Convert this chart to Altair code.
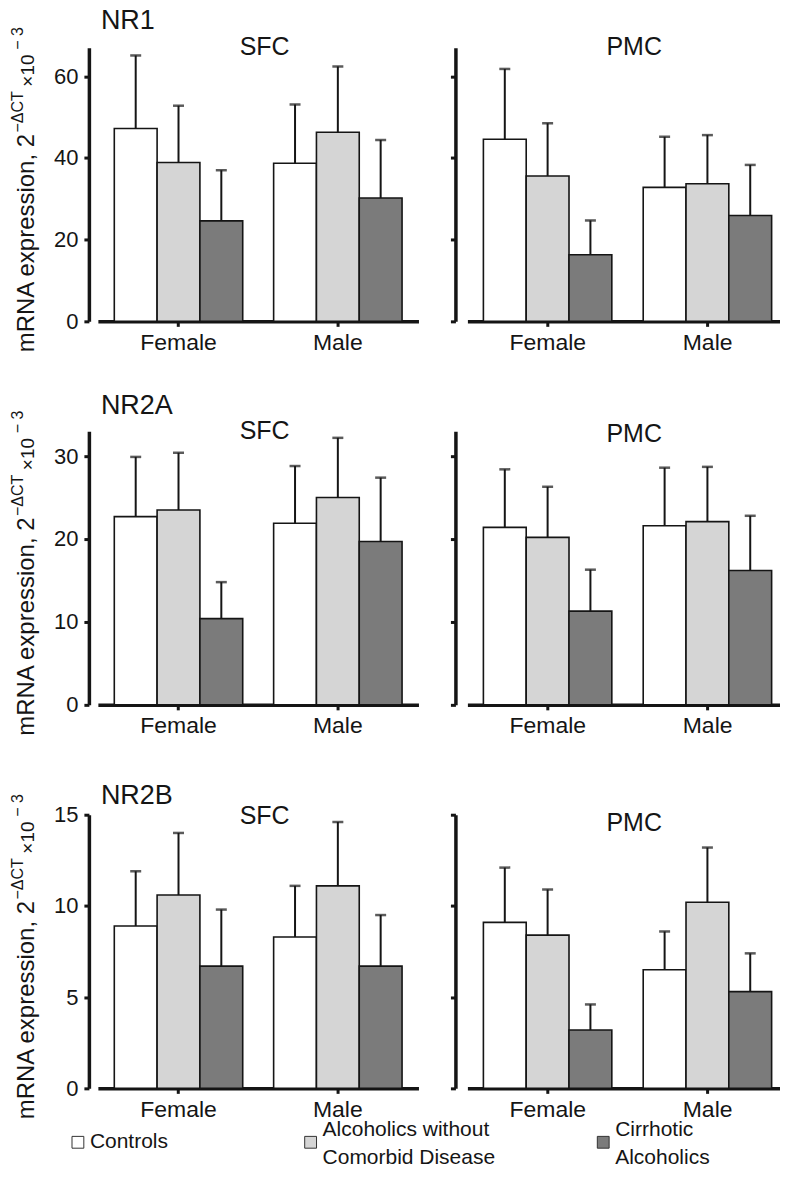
import altair as alt
import pandas as pd

FONT = "Liberation Sans"
INK = "#151515"

sexes = ["Female", "Male"]
groups = ["Controls", "Alcoholics without Comorbid Disease", "Cirrhotic Alcoholics"]
legend_labels = ["Controls", "Alcoholics without\nComorbid Disease", "Cirrhotic\nAlcoholics"]
colors = ["#ffffff", "#d5d5d5", "#7b7b7b"]

genes = ["NR1", "NR2A", "NR2B"]
regions = ["SFC", "PMC"]
y_max = [67, 33, 15]
y_ticks = [[0, 20, 40, 60], [0, 10, 20, 30], [0, 5, 10, 15]]

# order: Female (Controls, Alcoholics, Cirrhotic), Male (Controls, Alcoholics, Cirrhotic)
nr1_sfc_mean = [47.2, 38.9, 24.6, 38.7, 46.3, 30.2]
nr1_sfc_upper = [65.1, 52.8, 37.0, 53.1, 62.4, 44.4]
nr1_pmc_mean = [44.6, 35.6, 16.3, 32.8, 33.7, 25.9]
nr1_pmc_upper = [61.8, 48.5, 24.7, 45.2, 45.6, 38.3]
nr2a_sfc_mean = [22.7, 23.5, 10.4, 21.9, 25.0, 19.7]
nr2a_sfc_upper = [29.9, 30.4, 14.8, 28.8, 32.2, 27.4]
nr2a_pmc_mean = [21.4, 20.2, 11.3, 21.6, 22.1, 16.2]
nr2a_pmc_upper = [28.4, 26.3, 16.3, 28.6, 28.7, 22.8]
nr2b_sfc_mean = [8.9, 10.6, 6.7, 8.3, 11.1, 6.7]
nr2b_sfc_upper = [11.9, 14.0, 9.8, 11.1, 14.6, 9.5]
nr2b_pmc_mean = [9.1, 8.4, 3.2, 6.5, 10.2, 5.3]
nr2b_pmc_upper = [12.1, 10.9, 4.6, 8.6, 13.2, 7.4]

series = {
    ("NR1", "SFC"): (nr1_sfc_mean, nr1_sfc_upper),
    ("NR1", "PMC"): (nr1_pmc_mean, nr1_pmc_upper),
    ("NR2A", "SFC"): (nr2a_sfc_mean, nr2a_sfc_upper),
    ("NR2A", "PMC"): (nr2a_pmc_mean, nr2a_pmc_upper),
    ("NR2B", "SFC"): (nr2b_sfc_mean, nr2b_sfc_upper),
    ("NR2B", "PMC"): (nr2b_pmc_mean, nr2b_pmc_upper),
}

# layout (pixels)
gene_dy = [-19, -17, -11]
region_dy = {"SFC": [7, 8, 9], "PMC": [7, 11, 16]}
legend_x = [-20, 213, 506]
legend_dy = [0, -12, -12]
PANEL_H = 274


def make_df(means, uppers):
    rows = []
    for i, (m, u) in enumerate(zip(means, uppers)):
        rows.append({"sex": sexes[i // 3], "group": groups[i % 3], "mean": m, "upper": u})
    return pd.DataFrame(rows)


def text_layer(txt, x, y, size, align="left", angle=0):
    kw = dict(align=align, baseline="alphabetic", fontSize=size, font=FONT, color=INK)
    if angle:
        kw["angle"] = angle
    return alt.Chart(pd.DataFrame({"t": [txt]})).mark_text(**kw).encode(
        text="t:N", x=alt.value(x), y=alt.value(y)
    )


def legend_layers():
    ly = PANEL_H + 54
    out = []
    for g, lab, lx, ldy in zip(groups, legend_labels, legend_x, legend_dy):
        d = pd.DataFrame({"group": [g], "label": [lab]})
        out.append(alt.Chart(d).mark_square(size=140, stroke="#333333", strokeWidth=1, opacity=1).encode(
            x=alt.value(lx), y=alt.value(ly),
            fill=alt.Fill("group:N", scale=alt.Scale(domain=groups, range=colors), legend=None),
        ))
        out.append(alt.Chart(d).mark_text(align="left", baseline="middle", dx=12, dy=ldy, fontSize=21,
                                          font=FONT, color=INK, lineBreak="\n", lineHeight=28).encode(
            x=alt.value(lx), y=alt.value(ly), text="label:N"
        ))
    return out


def panel(gi, region):
    means, uppers = series[(genes[gi], region)]
    df = make_df(means, uppers)
    left = region == "SFC"
    width = 321 if left else 313
    pad_outer = 0.103 if left else 0.075
    align = 0.5 if left else 0.667

    xscale = alt.Scale(domain=sexes, paddingInner=0.194, paddingOuter=pad_outer, align=align)
    xaxis = alt.Axis(title=None, labelAngle=0, labelFontSize=23, labelPadding=5,
                     tickSize=5, tickWidth=3, domainWidth=3.5)
    x = alt.X("sex:N", scale=xscale, sort=sexes, axis=xaxis)
    xo = alt.XOffset("group:N", scale=alt.Scale(domain=groups, paddingInner=0, paddingOuter=0), sort=groups)
    yscale = alt.Scale(domain=[0, y_max[gi]], nice=False, zero=True)
    yaxis = alt.Axis(title=None, values=y_ticks[gi], labels=left, offset=9 if left else 12,
                     labelFontSize=22, labelPadding=6, tickSize=5, tickWidth=3, domainWidth=3.5)

    base = alt.Chart(df)
    bars = base.mark_bar(stroke=INK, strokeWidth=1.6).encode(
        x=x, xOffset=xo,
        y=alt.Y("mean:Q", scale=yscale, axis=yaxis),
        fill=alt.Fill("group:N", scale=alt.Scale(domain=groups, range=colors), legend=None),
    )
    rules = base.mark_rule(color=INK, strokeWidth=2).encode(
        x=x, xOffset=xo,
        y=alt.Y("mean:Q", scale=yscale, axis=yaxis),
        y2="upper:Q",
    )
    caps = base.mark_tick(color=INK, thickness=2.5, size=11).encode(
        x=x, xOffset=xo,
        y=alt.Y("upper:Q", scale=yscale, axis=yaxis),
    )
    layers = [bars, rules, caps,
              text_layer(region, 167, region_dy[region][gi], 25, align="center")]
    if left:
        layers.append(text_layer(genes[gi], 3, gene_dy[gi], 27))
        layers.append(text_layer("mRNA expression, 2", -64, 305, 24, angle=270))
        layers.append(text_layer("\u2212\u0394CT", -75, 85, 16, angle=270))
        layers.append(text_layer("\u00d710", -64, 39, 19, angle=270))
        layers.append(text_layer("\u2212 3", -75, 2, 16, angle=270))
        if gi == 2:
            layers.extend(legend_layers())
    return alt.layer(*layers).properties(width=width, height=PANEL_H)


panels = []
for gi in range(3):
    panels.append(panel(gi, "SFC"))
    panels.append(panel(gi, "PMC"))

chart = alt.concat(
    *panels, columns=2, spacing={"row": 110, "column": 49}, bounds="flush"
).configure_view(
    stroke=None
).configure_axis(
    grid=False, labelFont=FONT, labelColor=INK, domainColor=INK, tickColor=INK
).properties(
    padding={"left": 2, "top": -2, "right": 0, "bottom": 4}, background="white"
)

chart.save("out.html", embed_options={"renderer": "svg", "actions": False})
